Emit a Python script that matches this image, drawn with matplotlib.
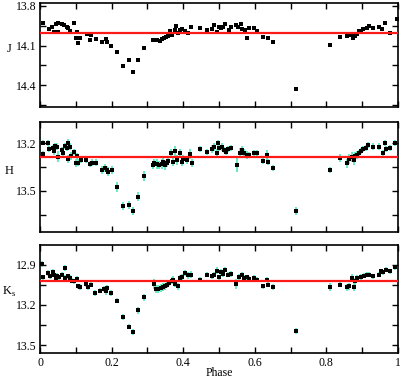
import matplotlib
matplotlib.use("Agg")
import matplotlib.pyplot as plt
from matplotlib.ticker import MultipleLocator

plt.rcParams['font.family'] = ['Liberation Serif', 'DejaVu Serif']
plt.rcParams['mathtext.fontset'] = 'custom'
plt.rcParams['mathtext.rm'] = 'Liberation Serif'

# J band
j_phase = [0.008, 0.025, 0.034, 0.040, 0.044, 0.049, 0.051, 0.062, 0.068, 0.075,
           0.079, 0.084, 0.096, 0.102, 0.100, 0.112, 0.105, 0.130, 0.140, 0.142,
           0.156, 0.172, 0.183, 0.186, 0.198, 0.215, 0.232, 0.248, 0.259, 0.275,
           0.291, 0.315, 0.321, 0.327, 0.335, 0.342, 0.346, 0.352, 0.358, 0.363,
           0.370, 0.376, 0.379, 0.385, 0.391, 0.397, 0.406, 0.413, 0.422, 0.447,
           0.466, 0.480, 0.486, 0.494, 0.501, 0.506, 0.512, 0.517, 0.529, 0.534,
           0.547, 0.554, 0.561, 0.565, 0.573, 0.577, 0.585, 0.599, 0.605, 0.622,
           0.636, 0.650, 0.714, 0.810, 0.838, 0.857, 0.863, 0.871, 0.875, 0.880,
           0.886, 0.891, 0.898, 0.903, 0.913, 0.920, 0.931, 0.947, 0.956, 0.964,
           0.978, 0.998]
j_mag = [13.927, 13.977, 13.957, 14.000, 13.940, 13.930, 13.995, 13.940, 13.944, 13.957,
         13.970, 13.990, 13.930, 13.995, 14.040, 14.045, 14.083, 14.010, 14.060, 14.020,
         14.050, 14.070, 14.053, 14.070, 14.104, 14.149, 14.253, 14.212, 14.299, 14.210,
         14.121, 14.060, 14.060, 14.060, 14.063, 14.053, 14.045, 14.033, 14.028, 13.990,
         14.020, 13.982, 13.952, 14.007, 13.982, 13.977, 13.987, 14.003, 13.957, 13.970,
         13.982, 13.977, 13.944, 13.995, 13.957, 13.970, 13.957, 13.940, 13.982, 13.957,
         13.944, 13.957, 13.937, 13.977, 13.982, 14.040, 13.970, 13.965, 13.987, 14.033,
         14.045, 14.071, 14.433, 14.096, 14.033, 14.028, 14.020, 14.015, 14.045, 14.028,
         14.015, 13.987, 13.995, 13.977, 13.965, 13.950, 13.965, 13.957, 13.975, 13.932,
         14.003, 13.900]
j_err = 0.012

# H band
h_phase = [0.008, 0.009, 0.023, 0.026, 0.037, 0.040, 0.042, 0.047, 0.051, 0.061,
           0.065, 0.070, 0.075, 0.079, 0.079, 0.084, 0.087, 0.095, 0.101, 0.102,
           0.107, 0.115, 0.128, 0.140, 0.144, 0.156, 0.172, 0.182, 0.186, 0.191,
           0.200, 0.215, 0.231, 0.248, 0.259, 0.275, 0.291, 0.315, 0.319, 0.326,
           0.333, 0.340, 0.344, 0.349, 0.354, 0.358, 0.365, 0.372, 0.377, 0.382,
           0.391, 0.396, 0.400, 0.410, 0.419, 0.424, 0.447, 0.466, 0.480, 0.486,
           0.494, 0.498, 0.501, 0.507, 0.514, 0.520, 0.526, 0.533, 0.549, 0.559,
           0.565, 0.571, 0.577, 0.585, 0.599, 0.605, 0.624, 0.633, 0.636, 0.650,
           0.714, 0.810, 0.838, 0.857, 0.863, 0.871, 0.877, 0.880, 0.886, 0.892,
           0.898, 0.903, 0.910, 0.917, 0.931, 0.947, 0.959, 0.964, 0.966, 0.978,
           0.992]
h_mag = [13.196, 13.269, 13.200, 13.238, 13.231, 13.248, 13.217, 13.221, 13.284, 13.242,
         13.263, 13.217, 13.231, 13.196, 13.299, 13.221, 13.278, 13.253, 13.326, 13.280,
         13.322, 13.305, 13.305, 13.332, 13.322, 13.322, 13.368, 13.353, 13.368, 13.379,
         13.368, 13.477, 13.594, 13.588, 13.624, 13.536, 13.406, 13.336, 13.326, 13.330,
         13.336, 13.330, 13.316, 13.336, 13.326, 13.309, 13.263, 13.316, 13.248, 13.305,
         13.263, 13.316, 13.300, 13.305, 13.269, 13.322, 13.238, 13.253, 13.238, 13.225,
         13.259, 13.200, 13.231, 13.221, 13.242, 13.257, 13.238, 13.231, 13.336, 13.259,
         13.242, 13.263, 13.274, 13.274, 13.263, 13.263, 13.311, 13.274, 13.316, 13.357,
         13.624, 13.368, 13.294, 13.326, 13.300, 13.288, 13.305, 13.280, 13.274, 13.263,
         13.248, 13.238, 13.231, 13.211, 13.221, 13.221, 13.263, 13.200, 13.238, 13.231,
         13.200]
h_err = [0.015, 0.020, 0.020, 0.020, 0.020, 0.025, 0.020, 0.020, 0.035, 0.020,
         0.025, 0.020, 0.020, 0.020, 0.025, 0.020, 0.025, 0.020, 0.025, 0.020,
         0.020, 0.020, 0.020, 0.020, 0.020, 0.020, 0.025, 0.025, 0.025, 0.030,
         0.025, 0.030, 0.025, 0.025, 0.025, 0.030, 0.030, 0.025, 0.025, 0.030,
         0.025, 0.030, 0.030, 0.030, 0.025, 0.025, 0.030, 0.030, 0.030, 0.030,
         0.030, 0.030, 0.025, 0.025, 0.030, 0.025, 0.020, 0.020, 0.025, 0.025,
         0.025, 0.020, 0.020, 0.025, 0.020, 0.020, 0.020, 0.020, 0.045, 0.030,
         0.025, 0.025, 0.025, 0.020, 0.020, 0.020, 0.020, 0.030, 0.020, 0.020,
         0.025, 0.020, 0.025, 0.030, 0.030, 0.030, 0.030, 0.025, 0.025, 0.020,
         0.020, 0.020, 0.020, 0.020, 0.020, 0.020, 0.020, 0.020, 0.020, 0.020,
         0.020]

# Ks band
k_phase = [0.005, 0.009, 0.023, 0.028, 0.037, 0.040, 0.045, 0.048, 0.054, 0.062,
           0.070, 0.070, 0.077, 0.084, 0.089, 0.095, 0.102, 0.107, 0.112, 0.128,
           0.135, 0.142, 0.154, 0.168, 0.180, 0.184, 0.186, 0.198, 0.214, 0.231,
           0.248, 0.259, 0.275, 0.291, 0.318, 0.324, 0.330, 0.337, 0.344, 0.349,
           0.354, 0.361, 0.368, 0.372, 0.377, 0.385, 0.391, 0.396, 0.405, 0.414,
           0.421, 0.447, 0.466, 0.480, 0.486, 0.494, 0.500, 0.505, 0.510, 0.517,
           0.526, 0.533, 0.547, 0.557, 0.563, 0.571, 0.577, 0.585, 0.599, 0.605,
           0.622, 0.633, 0.636, 0.650, 0.714, 0.810, 0.838, 0.857, 0.864, 0.871,
           0.877, 0.880, 0.886, 0.898, 0.905, 0.913, 0.920, 0.931, 0.947, 0.952,
           0.959, 0.966, 0.978, 0.992]
k_mag = [12.895, 12.994, 12.961, 12.987, 12.954, 12.974, 12.999, 12.987, 12.994, 12.974,
         12.925, 12.999, 12.987, 12.999, 13.019, 13.024, 13.006, 13.061, 13.065, 13.043,
         13.068, 13.048, 13.110, 13.093, 13.080, 13.098, 13.073, 13.110, 13.167, 13.290,
         13.362, 13.401, 13.241, 13.142, 13.043, 13.078, 13.078, 13.073, 13.068, 13.061,
         13.048, 13.036, 13.019, 13.011, 13.043, 13.061, 12.999, 12.994, 12.961, 12.979,
         12.974, 13.011, 12.974, 12.987, 12.974, 12.944, 12.994, 12.954, 12.969, 12.937,
         12.974, 12.969, 13.043, 12.994, 12.974, 12.999, 12.994, 13.006, 12.999, 13.011,
         13.061, 13.011, 13.048, 13.065, 13.394, 13.065, 13.048, 13.068, 13.061, 12.999,
         13.065, 13.024, 12.999, 12.991, 12.981, 12.974, 12.974, 12.987, 12.974, 12.950,
         12.957, 12.937, 12.950, 12.920]
k_err = [0.020, 0.020, 0.020, 0.020, 0.020, 0.020, 0.020, 0.025, 0.020, 0.020,
         0.020, 0.020, 0.020, 0.020, 0.020, 0.020, 0.020, 0.020, 0.020, 0.020,
         0.020, 0.020, 0.020, 0.020, 0.020, 0.025, 0.025, 0.020, 0.020, 0.020,
         0.020, 0.025, 0.025, 0.025, 0.035, 0.030, 0.030, 0.030, 0.030, 0.025,
         0.025, 0.025, 0.025, 0.025, 0.025, 0.025, 0.025, 0.025, 0.025, 0.025,
         0.025, 0.020, 0.020, 0.020, 0.020, 0.025, 0.020, 0.020, 0.020, 0.020,
         0.020, 0.020, 0.035, 0.025, 0.020, 0.020, 0.020, 0.020, 0.020, 0.020,
         0.020, 0.020, 0.020, 0.020, 0.025, 0.030, 0.020, 0.025, 0.025, 0.030,
         0.030, 0.025, 0.020, 0.020, 0.020, 0.020, 0.020, 0.020, 0.020, 0.020,
         0.020, 0.020, 0.020, 0.020]

# mean magnitudes (red lines)
mean_mag = [14.005, 13.288, 13.024]
band_labels = ['J', 'H', 'K$_\\mathrm{s}$']

# panel limits and ticks
ylims = [(14.565, 13.778), (13.756, 13.064), (13.56, 12.752)]
ymajor = [[13.8, 14.1, 14.4], [13.2, 13.5], [12.9, 13.2, 13.5]]
yminor = 0.15

fig = plt.figure(figsize=(4.0, 3.79), dpi=100)
rects = [[0.100, 0.718, 0.895, 0.274],
         [0.100, 0.389, 0.895, 0.290],
         [0.100, 0.068, 0.895, 0.286]]

data = [(j_phase, j_mag, j_err), (h_phase, h_mag, h_err), (k_phase, k_mag, k_err)]

for i, (ph, mag, err) in enumerate(data):
    ax = fig.add_axes(rects[i])
    ax.errorbar(ph, mag, yerr=err, fmt='none', ecolor='#5ce8b8',
                elinewidth=1.3, capsize=0, zorder=2)
    ax.plot(ph, mag, 's', color='black', markersize=2.3, mew=0, zorder=3)
    ax.axhline(mean_mag[i], color='#ff1a1a', lw=1.6, zorder=4)
    ax.set_xlim(0, 1)
    ax.set_ylim(*ylims[i])
    ax.xaxis.set_major_locator(MultipleLocator(0.2))
    ax.xaxis.set_minor_locator(MultipleLocator(0.1))
    ax.set_yticks(ymajor[i])
    ax.yaxis.set_minor_locator(MultipleLocator(yminor))
    ax.tick_params(which='both', direction='in', top=True, right=True,
                   labelsize=8.5, width=1.0, pad=2.5)
    ax.tick_params(which='major', length=4.5)
    ax.tick_params(which='minor', length=4.5)
    for s in ax.spines.values():
        s.set_linewidth(1.2)
    ax.set_ylabel(band_labels[i], rotation=0, fontsize=9)
    ax.yaxis.set_label_coords(-0.085, 0.5)
    if i < 2:
        ax.set_xticklabels([])
    else:
        ax.set_xticks([0, 0.2, 0.4, 0.6, 0.8, 1.0])
        ax.set_xticklabels(['0', '0.2', '0.4', '0.6', '0.8', '1'])
        ax.set_xlabel('Phase', fontsize=8.5, labelpad=-1)

fig.savefig('out.png', dpi=100)
